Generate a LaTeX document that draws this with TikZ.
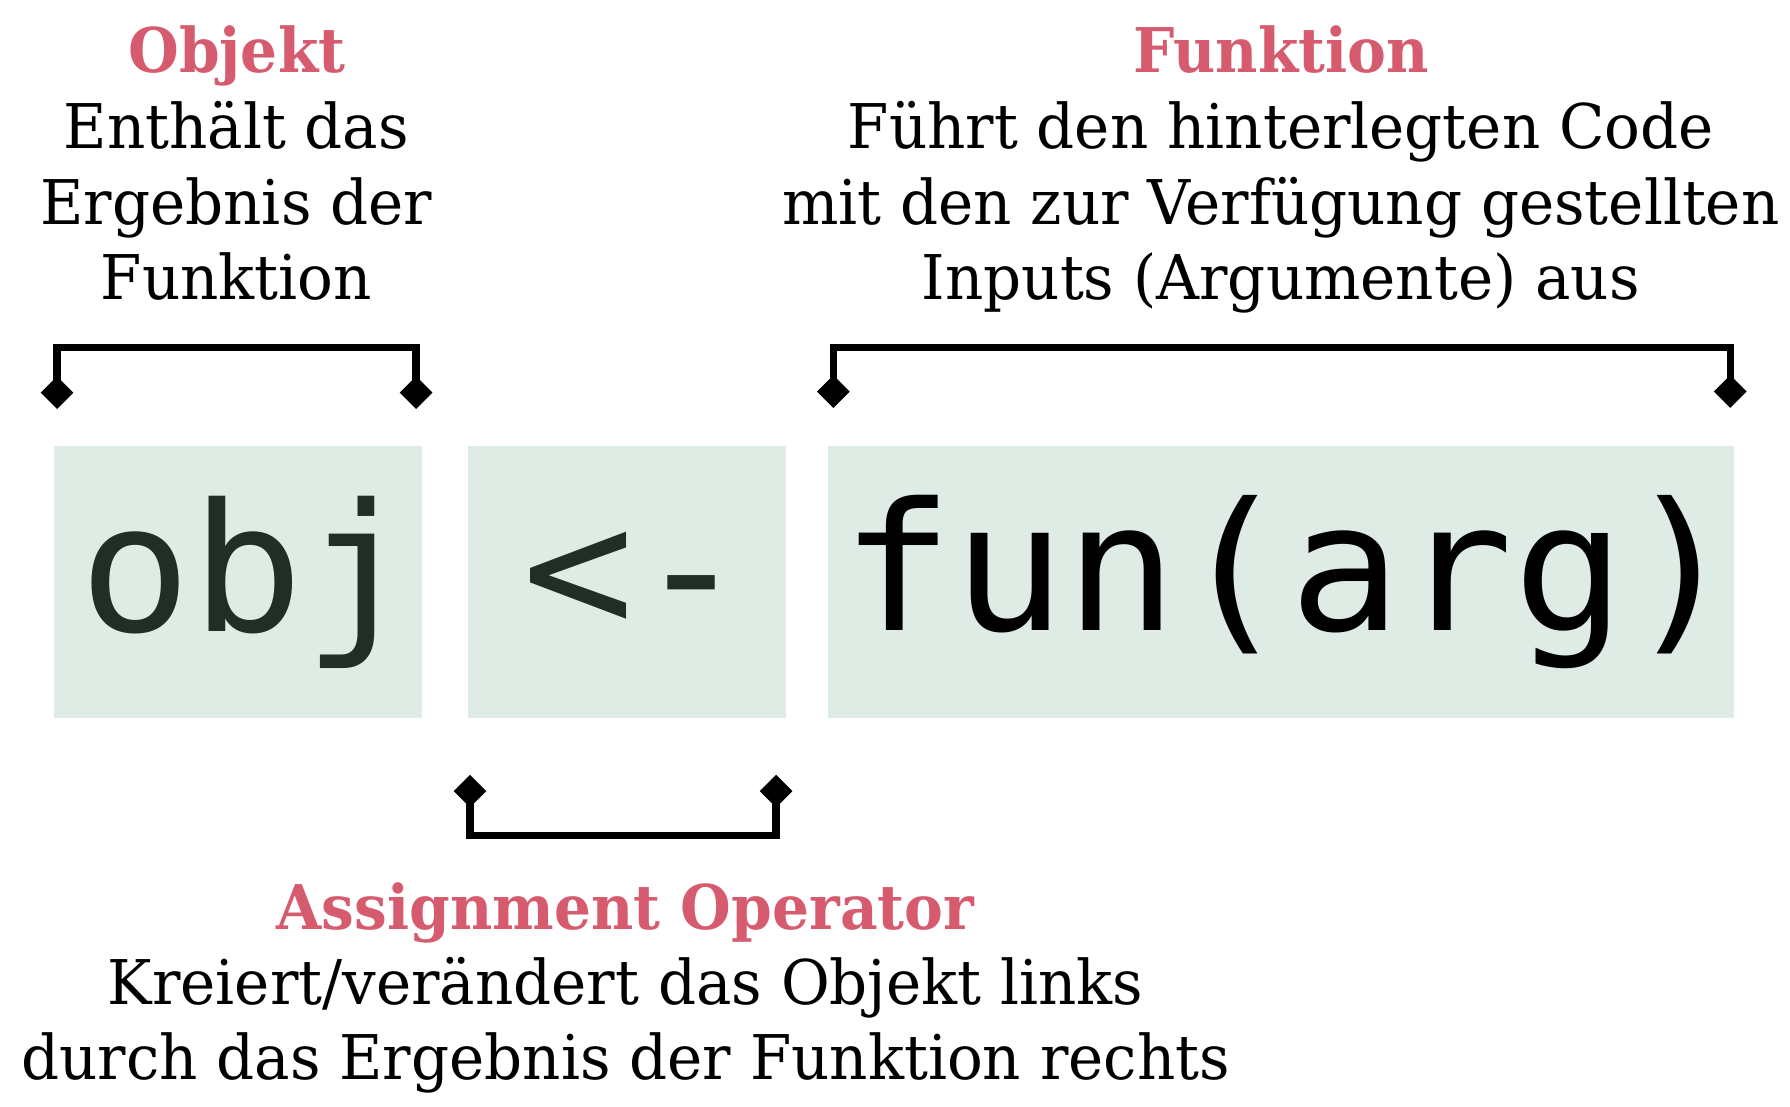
\documentclass[tikz,border=0pt]{standalone}
\usepackage{fontspec}
\setmainfont{DejaVu Serif}[FakeStretch=0.965]
\newfontfamily\titlefont{DejaVu Serif Bold}[FakeStretch=0.945]
\newfontfamily\codefont{DejaVu Sans Mono}[FakeStretch=1.045]
\usetikzlibrary{shapes.geometric}
\definecolor{accent}{HTML}{D75B6E}
\definecolor{codebg}{HTML}{DFECE6}
\definecolor{codeink}{HTML}{212D26}

\begin{document}
\begin{tikzpicture}[x=0.5pt,y=-0.5pt,
  codebox/.style={fill=codebg, inner sep=0pt, minimum height=119pt,
    font=\codefont\fontsize{78}{90}\selectfont},
  title/.style={anchor=base, inner sep=0pt, text=accent,
    font=\titlefont\fontsize{27}{32}\selectfont},
  body/.style={anchor=base, inner sep=0pt, font=\fontsize{27}{32}\selectfont},
  tip/.style={diamond, fill=black, inner sep=0pt,
    minimum width=14.5pt, minimum height=14.5pt},
  bracket/.style={line width=3.2pt}]
\useasboundingbox (0,0) rectangle (1568,969);

% code boxes (the kern pairs balance the glyphs optically inside each box)
\node[codebox, minimum width=161pt, text=codeink] (obj) at (208.6,509.7) {\kern4pt obj\kern-4pt};
\node[codebox, minimum width=139.25pt, text=codeink] (assign) at (549.25,509.7) {\kern3.5pt <-\kern-3.5pt};
\node[codebox, minimum width=397pt, text=black] (fun) at (1122,509.7) {\kern3.75pt fun(arg)\kern-3.75pt};

% bracket over the object
\node[tip] (objL) at (50,344) {};
\node[tip] (objR) at (364.5,344) {};
\draw[bracket] (objL.center) -- ++(0,-39.5) -| (objR.center);

% bracket over the function call
\node[tip] (funL) at (730,343) {};
\node[tip] (funR) at (1515.6,343) {};
\draw[bracket] (funL.center) -- ++(0,-38.5) -| (funR.center);

% bracket under the assignment operator
\node[tip] (asgL) at (411.7,693) {};
\node[tip] (asgR) at (679.8,693) {};
\draw[bracket] (asgL.center) -- ++(0,39) -| (asgR.center);

% labels: object
\node[title] (objT) at (207.5,63.5) {Objekt};
\node[body] (objA) at (207,130.5) {Enthält das};
\node[body] (objB) at (207,196.5) {Ergebnis der};
\node[body] (objC) at (207,262.5) {Funktion};

% labels: function
\node[title] (funT) at (1122,63.5) {Funktion};
\node[body] (funA) at (1122,130.5) {Führt den hinterlegten Code};
\node[body] (funB) at (1122,196.5) {mit den zur Verfügung gestellten};
\node[body] (funC) at (1122,262.5) {Inputs (Argumente) aus};

% labels: assignment operator
\node[title] (asgT) at (548,814) {Assignment Operator};
\node[body] (asgA) at (548,879.5) {Kreiert/verändert das Objekt links};
\node[body] (asgB) at (548,946) {durch das Ergebnis der Funktion rechts};
\end{tikzpicture}
\end{document}
